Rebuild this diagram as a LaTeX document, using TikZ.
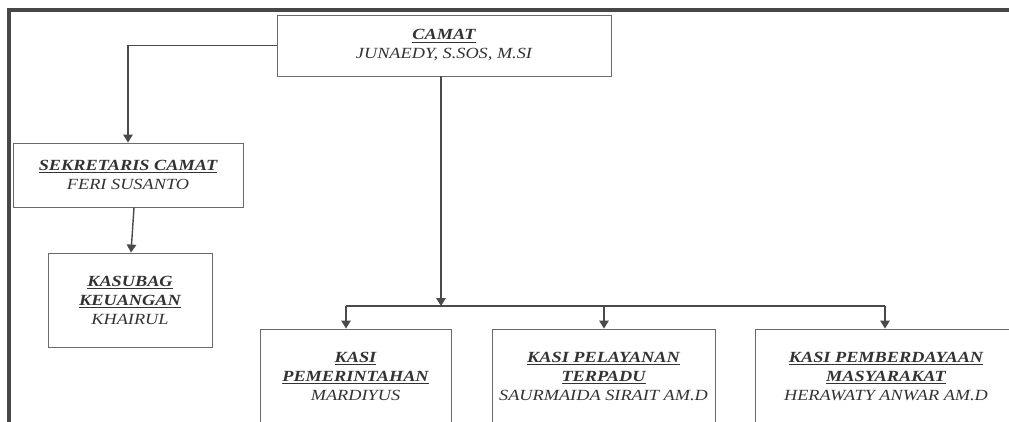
\documentclass[tikz,border=0pt]{standalone}
\usepackage{fontspec}
\setmainfont{Liberation Serif}[FakeStretch=1.18]
\usetikzlibrary{arrows.meta}
\definecolor{txt}{HTML}{333333}
\definecolor{edge}{HTML}{4A4A4A}
\definecolor{boxline}{HTML}{6A6A6A}
\definecolor{frame}{HTML}{474747}
\newcommand\uline[1]{\setbox0\hbox{#1}\rlap{\color{txt}\vrule height -1.6pt depth 2.9pt width\wd0}\box0}
\newcommand\ttl[1]{\uline{\textbf{\textit{#1}}}}
\tikzset{
  orgbox/.style={draw=boxline, line width=0.9pt, inner sep=0pt, align=center,
    text=txt, font=\fontsize{15.5}{19}\selectfont\itshape},
  conn/.style={draw=edge, line width=1.4pt},
  arr/.style={conn, -{Triangle[length=8pt,width=9.5pt]}}
}
\begin{document}
\begin{tikzpicture}[x=1pt,y=-1pt]
\useasboundingbox (0,0) rectangle (1009,421);
\clip (0,0) rectangle (1009,421);
\fill[white] (0,0) rectangle (1009,421);
% page frame
\draw[frame, line width=4.5pt] (9,425) -- (9,10) -- (1015,10);
% boxes
\node[orgbox, minimum width=334pt, minimum height=61pt] (camat) at (444,45.5)
  {\ttl{CAMAT}\\JUNAEDY, S.SOS, M.SI};
\node[orgbox, minimum width=230pt, minimum height=64pt] (sek) at (128,175)
  {\ttl{SEKRETARIS CAMAT}\\FERI SUSANTO};
\node[orgbox, minimum width=164pt, minimum height=94pt] (keu) at (130,300)
  {\ttl{KASUBAG}\\\ttl{KEUANGAN}\\KHAIRUL};
\node[orgbox, minimum width=191pt, minimum height=94pt] (pem) at (355.5,376)
  {\ttl{KASI}\\\ttl{PEMERINTAHAN}\\MARDIYUS};
\node[orgbox, minimum width=223pt, minimum height=94pt] (pel) at (603.5,376)
  {\ttl{KASI PELAYANAN}\\\ttl{TERPADU}\\SAURMAIDA SIRAIT AM.D};
\node[orgbox, minimum width=262pt, minimum height=94pt] (pmb) at (886,376)
  {\ttl{KASI PEMBERDAYAAN}\\\ttl{MASYARAKAT}\\HERAWATY ANWAR AM.D};
% connector points
\coordinate (camatbot) at ([xshift=-3pt]camat.south);
\coordinate (busmid) at (441,306);
\coordinate (busL) at (346,306);
\coordinate (busM) at (604,306);
\coordinate (busR) at (885,306);
% connectors
\draw[arr] (camat.west) -| (sek.north);
\draw[arr] ([xshift=6pt]sek.south) -- ([xshift=1pt]keu.north);
\draw[arr] (camatbot) -- (busmid);
\draw[conn] (busL) -- (busR);
\draw[arr] (busL) -- (busL |- pem.north);
\draw[arr] (busM) -- (busM |- pel.north);
\draw[arr] (busR) -- (busR |- pmb.north);
\end{tikzpicture}
\end{document}
